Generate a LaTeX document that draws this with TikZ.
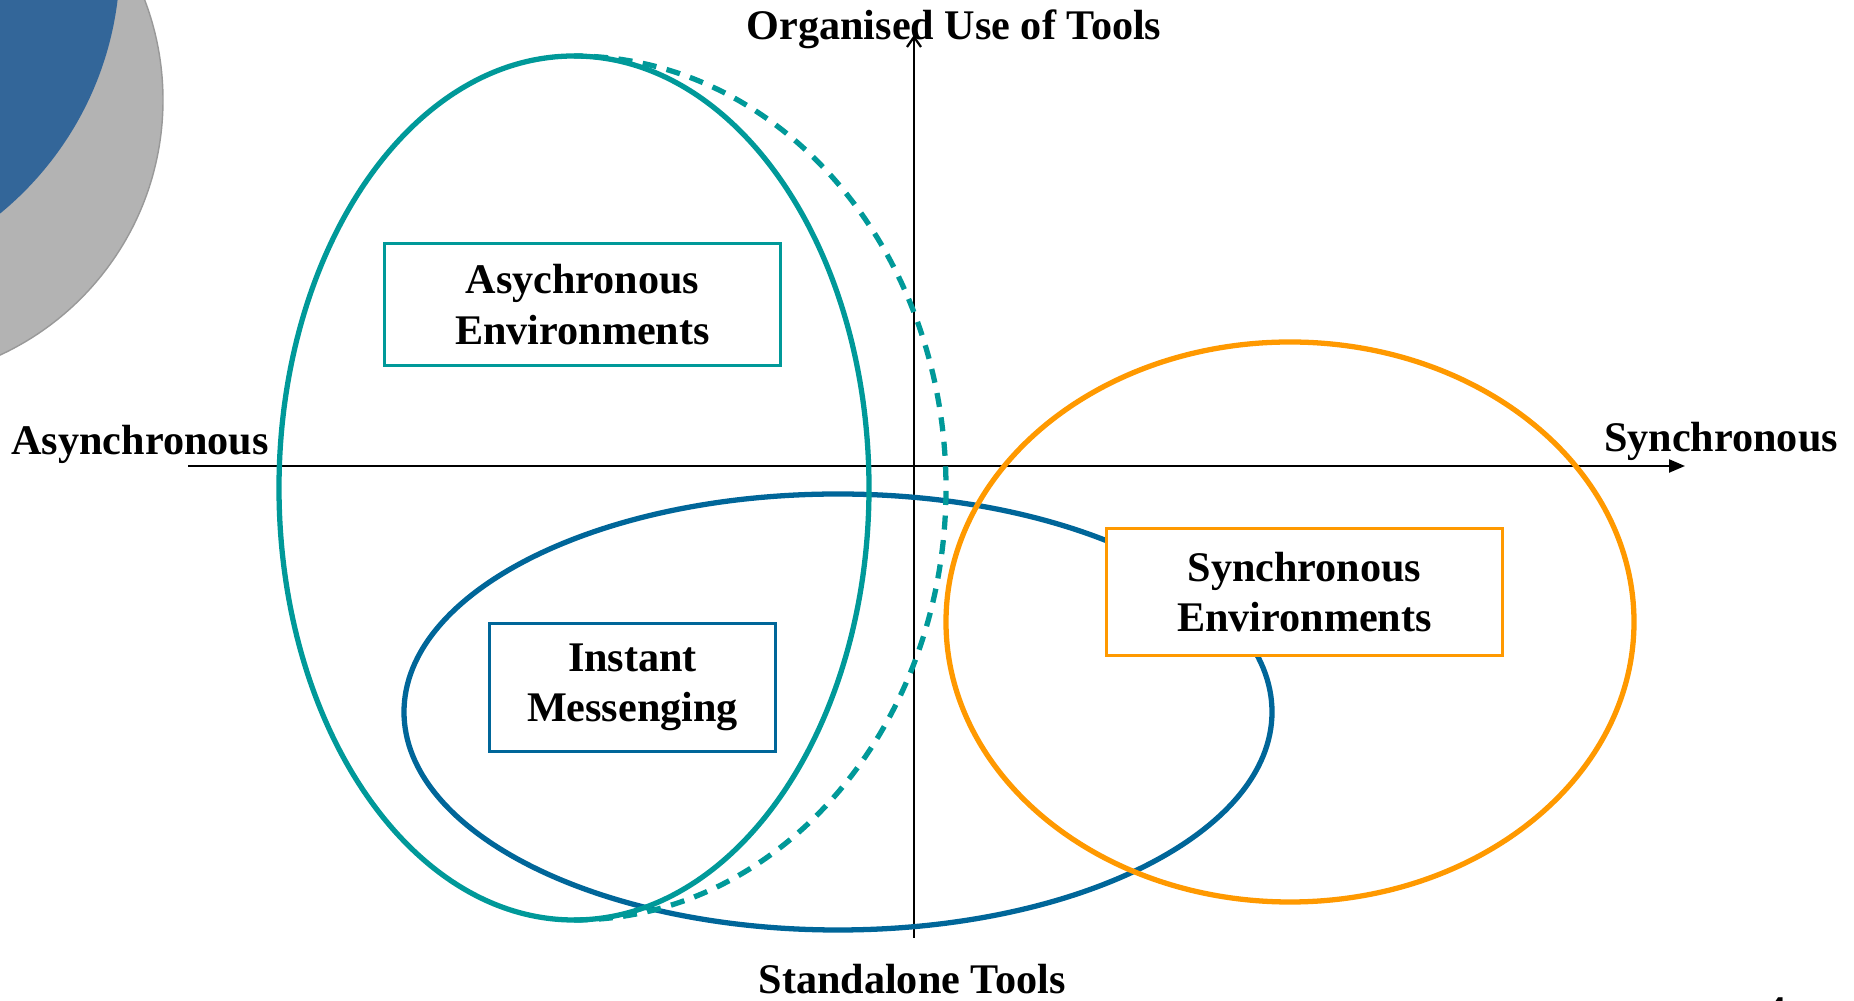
\documentclass[tikz,border=0pt]{standalone}
\usepackage{fontspec}
\setmainfont{Liberation Serif}
\usetikzlibrary{arrows.meta}
\definecolor{asyteal}{RGB}{0,153,153}
\definecolor{imblue}{RGB}{0,102,153}
\definecolor{synorange}{RGB}{255,153,0}
\definecolor{cornerblue}{RGB}{51,102,153}
\definecolor{cornergray}{RGB}{179,179,179}
\begin{document}
\begin{tikzpicture}[x=0.01cm,y=-0.01cm,
    lbl/.style={font=\fontsize{12}{14.4}\selectfont\bfseries},
    envbox/.style={lbl,draw,fill=white,line width=0.95pt,align=center,inner sep=0pt},
    ring/.style={line width=1.5pt}]
  \useasboundingbox (0,0) rectangle (1854,1001);
  % corner decoration
  \fill [cornergray,draw=gray!80] (-118,100) circle [radius=281];
  \fill [cornerblue] (-208,-40) circle [radius=328];
  % axes
  \coordinate (west) at (188,466);
  \coordinate (east) at (1685,466);
  \coordinate (south) at (914,938);
  \coordinate (north) at (914,35);
  \draw [line width=0.65pt,-{Triangle[length=0.16cm,width=0.13cm]}] (west) -- (east);
  \draw [line width=0.65pt,-{Straight Barb[length=0.1cm,width=0.14cm]}] (south) -- (north);
  % regions
  \draw [ring,imblue] (838,712) ellipse [x radius=434, y radius=218];
  \draw [ring,asyteal] (574,488) ellipse [x radius=295, y radius=432];
  \draw [ring,asyteal,dash pattern=on 4pt off 3pt] (574,920) arc [start angle=90, end angle=-90, x radius=372, y radius=432];
  \draw [ring,synorange] (1290,622) ellipse [x radius=344, y radius=280];
  % boxes
  \node (asyenv) at (582.5,304.5) [envbox,draw=asyteal,minimum width=3.96cm,minimum height=1.22cm] {Asychronous\\Environments};
  \node (instmsg) at (632.5,687.5) [envbox,draw=imblue,minimum width=2.86cm,minimum height=1.28cm] {Instant\\Messenging};
  \node (synenv) at (1304.5,592) [envbox,draw=synorange,minimum width=3.96cm,minimum height=1.27cm] {Synchronous\\Environments};
  % axis labels
  \node (asylbl) at (140,455) [lbl,anchor=base] {Asynchronous};
  \node (synlbl) at (1721,452) [lbl,anchor=base] {Synchronous};
  \node (orglbl) at (954,40) [lbl,anchor=base] {Organised Use of Tools};
  \node (stdlbl) at (912,994) [lbl,anchor=base] {Standalone Tools};
  \node (pagenum) at (1776,1026) [lbl,anchor=base] {4};
\end{tikzpicture}
\end{document}
